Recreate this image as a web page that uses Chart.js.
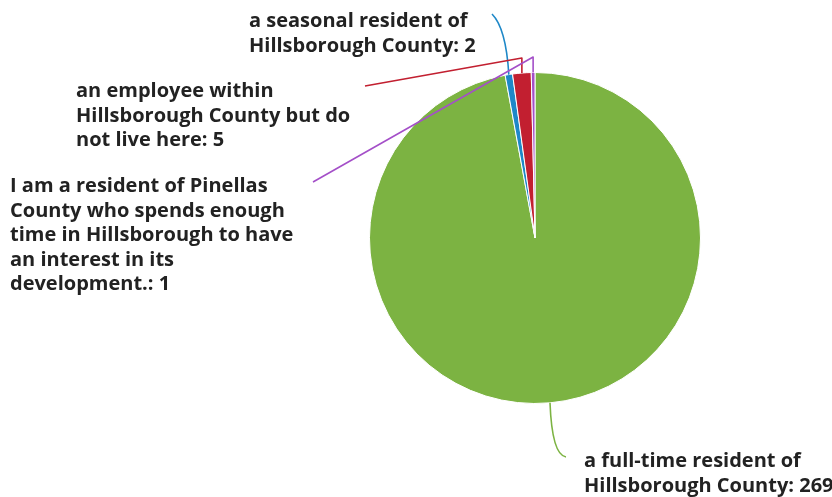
<!DOCTYPE html>
<html>
<head>
<meta charset="utf-8">
<script src="https://cdn.jsdelivr.net/npm/chart.js@4.4.1/dist/chart.umd.min.js"></script>
<style>
  html, body { margin: 0; padding: 0; background: #ffffff; }
  #wrap { width: 832px; height: 497px; position: relative; }
</style>
</head>
<body>
<div id="wrap"><canvas id="pie" width="832" height="497"></canvas></div>
<script>
// Survey answers: respondent relationship to Hillsborough County
const categories = [
  'a full-time resident of Hillsborough County',
  'a seasonal resident of Hillsborough County',
  'an employee within Hillsborough County but do not live here',
  'I am a resident of Pinellas County who spends enough time in Hillsborough to have an interest in its development.'
];
const counts = [269, 2, 5, 1];
const sliceColors = ['#7cb342', '#1e88c8', '#c21f30', '#a44fc8'];

// Wrapped label lines for each slice (the count is appended when drawn)
const labelLines = [
  ['a full-time resident of', 'Hillsborough County:'],
  ['a seasonal resident of', 'Hillsborough County:'],
  ['an employee within', 'Hillsborough County but do', 'not live here:'],
  ['I am a resident of Pinellas', 'County who spends enough', 'time in Hillsborough to have', 'an interest in its', 'development.:']
];

// Placement of each callout: text origin (left, first baseline), leader bend and leader end
const callouts = [
  { tx: 584, ty: 467, bend: [552, 455], end: [566, 457], curve: true },
  { tx: 249, ty: 27,  bend: [506, 28],  end: [492, 14],  curve: true },
  { tx: 76,  ty: 97,  bend: [null, 58], end: [365, 86],  curve: false },
  { tx: 10,  ty: 192, bend: [null, 57], end: [313, 182], curve: false }
];
const lineHeight = 24.5;

const calloutPlugin = {
  id: 'callouts',
  afterDatasetsDraw(chart) {
    const ctx = chart.ctx;
    const arcs = chart.getDatasetMeta(0).data;
    ctx.save();
    arcs.forEach((arc, i) => {
      const p = arc.getProps(['x', 'y', 'startAngle', 'endAngle', 'outerRadius'], true);
      const mid = (p.startAngle + p.endAngle) / 2;
      const sx = p.x + Math.cos(mid) * p.outerRadius;
      const sy = p.y + Math.sin(mid) * p.outerRadius;
      const c = callouts[i];
      ctx.strokeStyle = sliceColors[i];
      ctx.lineWidth = 1.6;
      ctx.lineJoin = 'round';
      ctx.beginPath();
      ctx.moveTo(sx, sy);
      if (c.curve) {
        ctx.quadraticCurveTo(c.bend[0], c.bend[1], c.end[0], c.end[1]);
      } else {
        const bx = c.bend[0] === null ? sx : c.bend[0];
        ctx.lineTo(bx, c.bend[1]);
        ctx.lineTo(c.end[0], c.end[1]);
      }
      ctx.stroke();

      ctx.fillStyle = '#222222';
      ctx.font = "bold 20px 'Open Sans', 'DejaVu Sans', sans-serif";
      ctx.textBaseline = 'alphabetic';
      ctx.textAlign = 'left';
      const lines = labelLines[i].slice();
      lines[lines.length - 1] += ' ' + counts[i];
      lines.forEach((t, k) => ctx.fillText(t, c.tx, c.ty + k * lineHeight));
    });
    ctx.restore();
  }
};

new Chart(document.getElementById('pie'), {
  type: 'pie',
  data: {
    labels: categories,
    datasets: [{
      data: counts,
      backgroundColor: sliceColors,
      borderColor: '#ffffff',
      borderWidth: 1,
      hoverOffset: 0,
      offset: 0
    }]
  },
  options: {
    responsive: false,
    animation: false,
    layout: { padding: { left: 369, right: 131, top: 72, bottom: 93 } },
    plugins: {
      legend: { display: false },
      tooltip: { enabled: false }
    }
  },
  plugins: [calloutPlugin]
});
</script>
</body>
</html>
